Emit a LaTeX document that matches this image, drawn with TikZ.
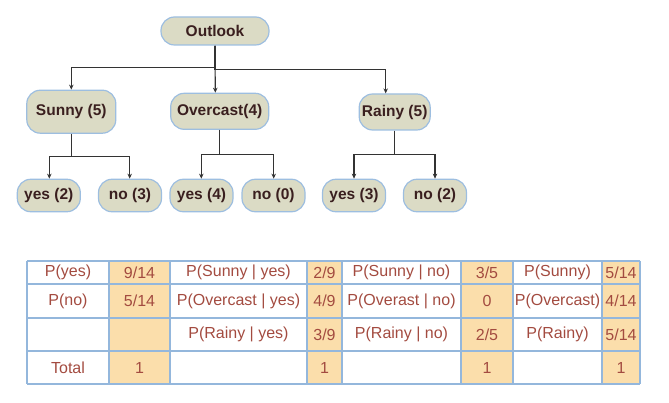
\documentclass[tikz,border=0pt]{standalone}
\usepackage{fontspec}
\setmainfont{Liberation Sans}
\usetikzlibrary{arrows.meta}
\definecolor{boxfill}{HTML}{DBDBC5}
\definecolor{boxline}{HTML}{9DBEE0}
\definecolor{treetext}{HTML}{3A1F1F}
\definecolor{tabtext}{HTML}{A34B40}
\definecolor{tabline}{HTML}{94B7DC}
\definecolor{cellfill}{HTML}{FBDEAB}
\tikzset{
  tnode/.style={draw=boxline, fill=boxfill, line width=1.2pt, rounded corners=13.5pt,
    inner sep=0pt, text=treetext, font=\bfseries\fontsize{15.5}{18}\selectfont},
  link/.style={draw=black!80, line width=1.1pt, -{Stealth[length=5pt,width=4.5pt]}},
  cell/.style={text=tabtext, font=\fontsize{16}{19}\selectfont, inner sep=0pt}
}

\begin{document}
\begin{tikzpicture}[x=1pt,y=-1pt]
		\useasboundingbox (0,0) rectangle (669,403);
		% tree
		\node[tnode, minimum width=108pt, minimum height=28pt] (outlook) at (215,31) {Outlook};
		\node[tnode, minimum width=89pt, minimum height=43pt] (sunny) at (71.3,111.7) {Sunny (5)};
		\node[tnode, minimum width=98pt, minimum height=36pt] (overcast) at (219.7,111.3) {Overcast(4)};
		\node[tnode, minimum width=71pt, minimum height=36pt] (rainy) at (394.7,112) {Rainy (5)};
		\node[tnode, minimum width=63pt, minimum height=32.5pt] (syes) at (48.8,195.5) {yes (2)};
		\node[tnode, minimum width=63pt, minimum height=32.5pt] (sno) at (130,195.5) {no (3)};
		\node[tnode, minimum width=63pt, minimum height=32.5pt] (oyes) at (201.5,195.5) {yes (4)};
		\node[tnode, minimum width=63pt, minimum height=32.5pt] (ono) at (273.5,195.5) {no (0)};
		\node[tnode, minimum width=63pt, minimum height=32.5pt] (ryes) at (354,195.5) {yes (3)};
		\node[tnode, minimum width=63pt, minimum height=32.5pt] (rno) at (435,195.5) {no (2)};
		\draw[link] (outlook.south) -- ++(0,22) -| (sunny.north);
		\draw[link] (outlook.south) -- ([xshift=-4.4pt]overcast.north);
		\draw[link] (outlook.south) -- ++(0,24) -| ([xshift=-9pt]rainy.north);
		\draw[link] (sunny.south) -- ++(0,22.7) -| ([xshift=0.5pt]syes.north);
		\draw[link] (sunny.south) -- ++(0,22.7) -| ([xshift=-0.3pt]sno.north);
		\draw[link] (overcast.south) -- ++(0,25) -| ([xshift=-0.2pt]oyes.north);
		\draw[link] (overcast.south) -- ++(0,25) -| ([xshift=0.2pt]ono.north);
		\draw[link] (rainy.south) -- ++(0,24.3) -| (ryes.north);
		\draw[link] (rainy.south) -- ++(0,24.3) -| (rno.north);
		% table
		\fill[cellfill] (109,261) rectangle (170,384);
		\fill[cellfill] (307,261) rectangle (342,384);
		\fill[cellfill] (461,261) rectangle (513,384);
		\fill[cellfill] (602,261) rectangle (640,384);
		\foreach \y in {261,284,318,351,384}
			\draw[tabline, line width=1.4pt] (27,\y) -- (640,\y);
		\foreach \x in {27,109,170,307,342,461,513,602,640}
			\draw[tabline, line width=1.4pt] (\x,261) -- (\x,384);
		\node[cell] (pyes) at (68,272.5) {P(yes)};
		\node[cell] (pno) at (68,301) {P(no)};
		\node[cell] (total) at (68,367.5) {Total};
		\node[cell] (vyes) at (139.5,272.5) {9/14};
		\node[cell] (vno) at (139.5,301) {5/14};
		\node[cell] (vtotal) at (139.5,367.5) {1};
		\node[cell] (psy) at (238.5,272.5) {P(Sunny | yes)};
		\node[cell] (poy) at (238.5,301) {P(Overcast | yes)};
		\node[cell] (pry) at (238.5,334.5) {P(Rainy | yes)};
		\node[cell] (vsy) at (324.5,272.5) {2/9};
		\node[cell] (voy) at (324.5,301) {4/9};
		\node[cell] (vry) at (324.5,334.5) {3/9};
		\node[cell] (vyt) at (324.5,367.5) {1};
		\node[cell] (psn) at (401.5,272.5) {P(Sunny | no)};
		\node[cell] (pon) at (401.5,301) {P(Overast | no)};
		\node[cell] (prn) at (401.5,334.5) {P(Rainy | no)};
		\node[cell] (vsn) at (487,272.5) {3/5};
		\node[cell] (von) at (487,301) {0};
		\node[cell] (vrn) at (487,334.5) {2/5};
		\node[cell] (vnt) at (487,367.5) {1};
		\node[cell] (ps) at (557.5,272.5) {P(Sunny)};
		\node[cell] (po) at (557.5,301) {P(Overcast)};
		\node[cell] (pr) at (557.5,334.5) {P(Rainy)};
		\node[cell] (vs) at (621,272.5) {5/14};
		\node[cell] (vo) at (621,301) {4/14};
		\node[cell] (vr) at (621,334.5) {5/14};
		\node[cell] (vt) at (621,367.5) {1};
\end{tikzpicture}
\end{document}
